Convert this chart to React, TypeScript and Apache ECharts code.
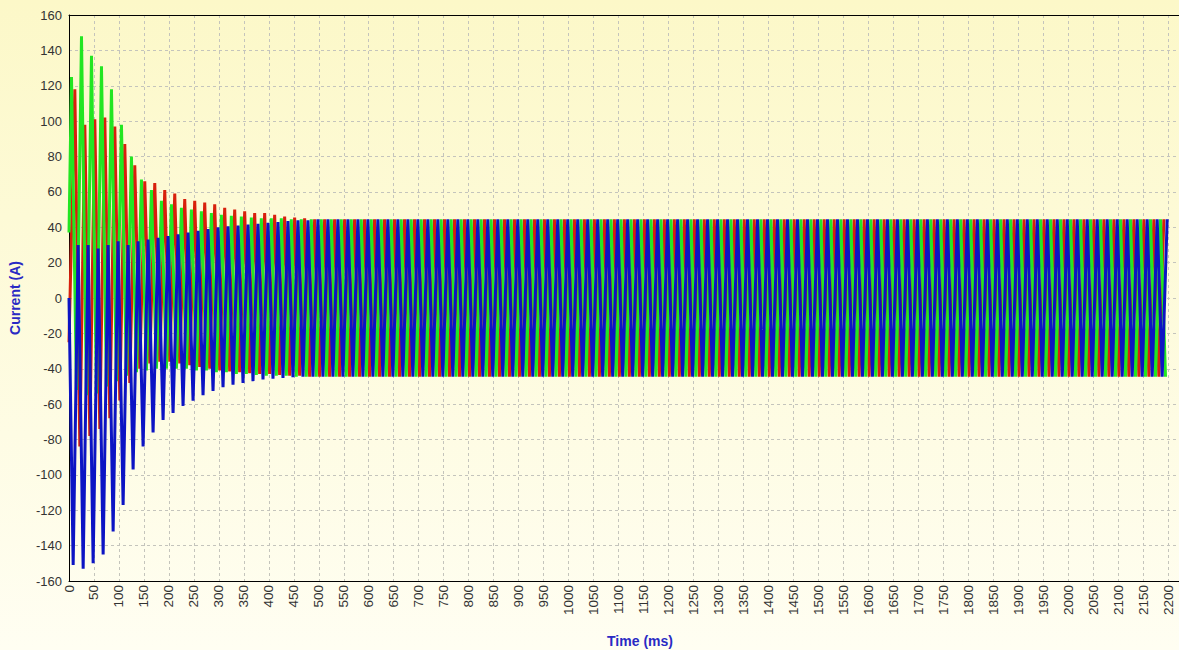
import React, { useEffect, useRef } from "react";
import * as echarts from "echarts";

// Three-phase current after switch-on: per-cycle extremes (A), 50 Hz.
const PERIOD_MS = 20;
const TIME_END_MS = 2200;
const STEADY_AMPLITUDE = 44.5;

// Green phase: highs at 5 + 20k ms, lows at 15 + 20k ms
const GREEN_START = 37;
const GREEN_HIGHS = [125, 148, 137, 131, 118, 98, 80, 67, 61, 55, 53, 51, 50, 49, 48, 47, 46.5, 46, 45.5, 45, 45, 45, 44.5, 44.5];
const GREEN_LOWS = [-52, -55, -54, -50, -47, -44, -42, -41, -40, -40, -40, -40, -41, -41, -42, -42, -43, -43, -43.5, -44, -44, -44, -44.5, -44.5];

// Red phase: highs at 11.67 + 20k ms, lows at 21.67 + 20k ms
const RED_START = -25;
const RED_HIGHS = [118, 98, 101, 102, 97, 87, 75, 66, 65, 61, 59, 56, 55, 54, 53, 51, 50, 49, 48, 48, 47, 46, 45.5, 45];
const RED_LOWS = [-84, -78, -74, -68, -58, -48, -40, -37, -36, -36, -37, -38, -39, -40, -41, -41.5, -42, -42.5, -43, -43, -43.5, -44, -44, -44.5];

// Blue phase: lows at 8.33 + 20k ms, highs at 18.33 + 20k ms
const BLUE_START = 0;
const BLUE_LOWS = [-151, -153, -150, -145, -132, -117, -97, -84, -76, -69, -65, -61, -58, -55, -52.5, -50.5, -49, -48, -47, -46, -45.6, -45.2, -44.8, -44.5];
const BLUE_HIGHS = [30, 30, 28, 30, 32, 30, 32, 33, 34, 35, 36, 37, 38, 39, 40, 40.5, 41, 41.5, 42, 42.5, 43, 43.5, 44, 44];

const Y_TICKS = { min: -160, max: 160, interval: 20 };
const X_TICKS = { min: 0, max: 2222, interval: 50 };

type Pt = [number, number];

function phasePoints(start: number, highT0: number, highs: number[], lowT0: number, lows: number[]): Pt[] {
  const pts: Pt[] = [[0, start]];
  for (let k = 0; ; k++) {
    const th = highT0 + k * PERIOD_MS;
    const tl = lowT0 + k * PERIOD_MS;
    if (th > TIME_END_MS && tl > TIME_END_MS) break;
    const h = k < highs.length ? highs[k] : STEADY_AMPLITUDE;
    const l = k < lows.length ? lows[k] : -STEADY_AMPLITUDE;
    const pair: Pt[] = th < tl ? [[th, h], [tl, l]] : [[tl, l], [th, h]];
    for (const p of pair) if (p[0] <= TIME_END_MS) pts.push(p);
  }
  return pts;
}

const FONT = "'Liberation Sans', Arial, sans-serif";

export default function App() {
  const ref = useRef<HTMLDivElement>(null);

  useEffect(() => {
    document.body.style.margin = "0";
    if (!ref.current) return;
    const chart = echarts.init(ref.current, undefined, { renderer: "svg" });

    const green = phasePoints(GREEN_START, 5, GREEN_HIGHS, 15, GREEN_LOWS);
    const red = phasePoints(RED_START, 11.67, RED_HIGHS, 21.67, RED_LOWS);
    const blue = phasePoints(BLUE_START, 18.33, BLUE_HIGHS, 8.33, BLUE_LOWS);

    const line = (name: string, color: string, data: Pt[]) => ({
      name,
      type: "line",
      data,
      showSymbol: false,
      symbol: "none",
      lineStyle: { color, width: 3 },
      emphasis: { disabled: true },
    });

    chart.setOption({
      animation: false,
      backgroundColor: {
        type: "linear",
        x: 0,
        y: 0,
        x2: 0,
        y2: 1,
        colorStops: [
          { offset: 0, color: "#fcf8c8" },
          { offset: 1, color: "#fffef2" },
        ],
      },
      grid: { left: 69, right: 0, top: 15, bottom: 69, containLabel: false, outerBoundsMode: "none" },
      xAxis: [
        {
          type: "value",
          min: X_TICKS.min,
          max: X_TICKS.max,
          interval: X_TICKS.interval,
          name: "Time (ms)",
          nameLocation: "middle",
          nameGap: 53,
          nameTextStyle: {
            color: "#2a2ac4",
            fontWeight: "bold",
            fontSize: 14,
            fontFamily: FONT,
            padding: [0, 0, 0, 32],
          },
          axisLine: { show: true, onZero: false, lineStyle: { color: "#000", width: 1 } },
          axisTick: { show: false },
          axisLabel: {
            rotate: 90,
            margin: 4,
            fontSize: 13.5,
            color: "#333",
            fontFamily: FONT,
            formatter: (v: number) => (v % 50 === 0 ? String(v) : ""),
          },
          splitLine: { show: true, lineStyle: { color: "#c4c4bc", type: [3, 3], width: 1 } },
        },
        {
          type: "value",
          position: "top",
          min: X_TICKS.min,
          max: X_TICKS.max,
          axisLine: { show: true, onZero: false, lineStyle: { color: "#000", width: 1 } },
          axisTick: { show: false },
          axisLabel: { show: false },
          splitLine: { show: false },
        },
      ],
      yAxis: {
        type: "value",
        min: Y_TICKS.min,
        max: Y_TICKS.max,
        interval: Y_TICKS.interval,
        name: "Current (A)",
        nameLocation: "middle",
        nameGap: 47,
        nameRotate: 90,
        nameTextStyle: { color: "#2a2ac4", fontWeight: "bold", fontSize: 14, fontFamily: FONT },
        axisLine: { show: true, onZero: false, lineStyle: { color: "#000", width: 1 } },
        axisTick: { show: false },
        axisLabel: { margin: 7, fontSize: 13, color: "#333", fontFamily: FONT },
        splitLine: { show: true, lineStyle: { color: "#c4c4bc", type: [3, 3], width: 1 } },
      },
      series: [
        line("Phase R", "#d8200c", red),
        line("Phase G", "#22e622", green),
        line("Phase B", "#0c14c4", blue),
      ],
    });

    return () => chart.dispose();
  }, []);

  return <div ref={ref} style={{ width: 1179, height: 650 }} />;
}
